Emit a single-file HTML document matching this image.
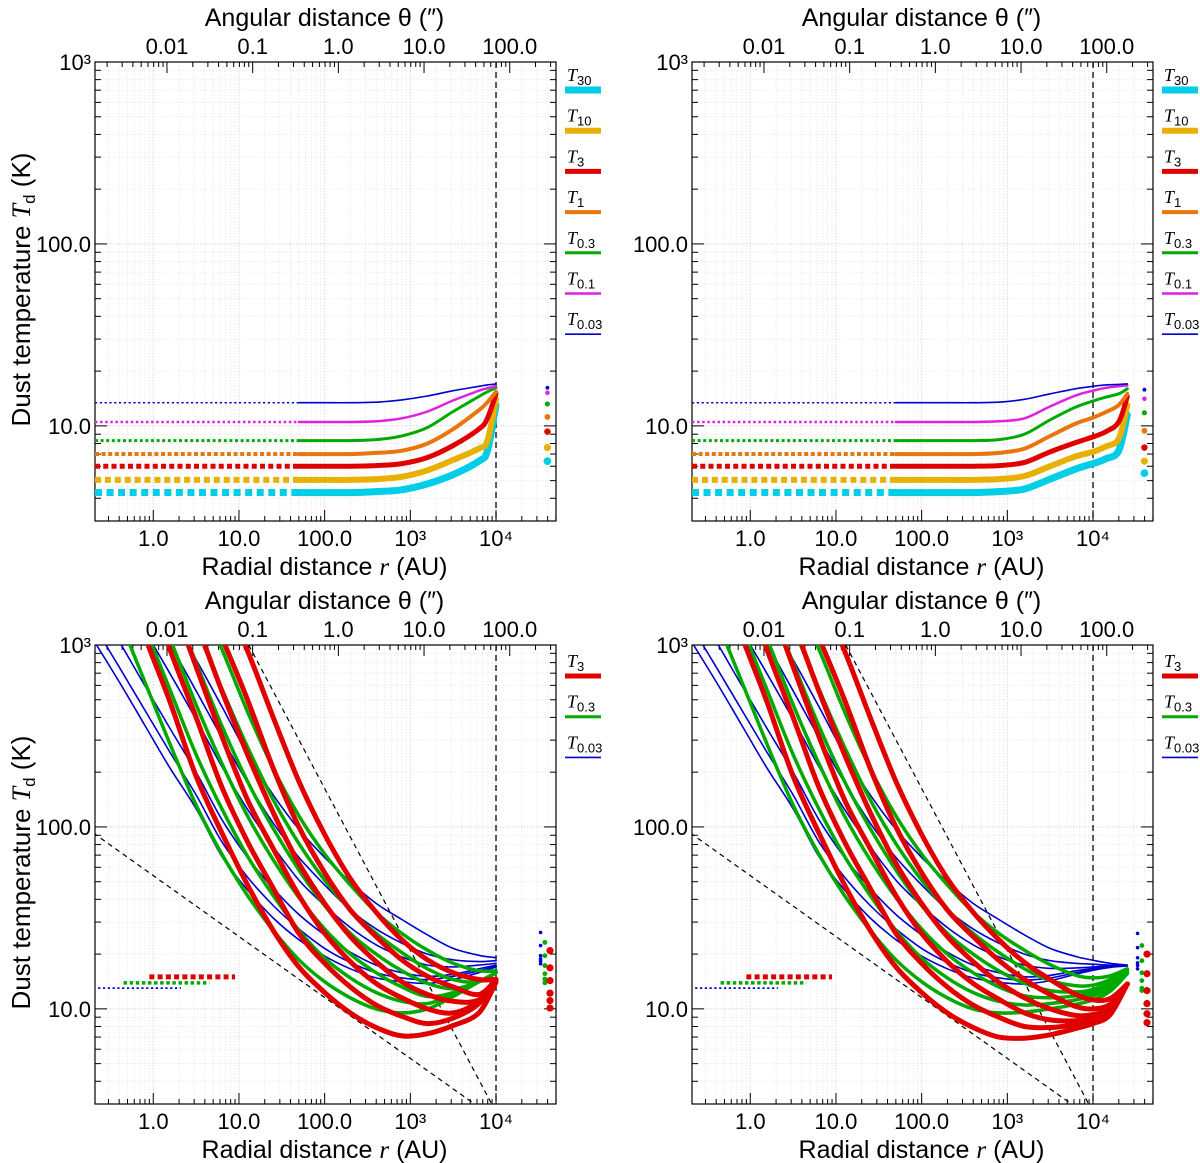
<!DOCTYPE html>
<html><head><meta charset="utf-8"><style>
html,body{margin:0;padding:0;background:#fff}
svg{display:block}
text{font-family:"Liberation Sans",Arial,sans-serif;fill:#000}
</style></head><body>
<svg id="fig" width="1200" height="1163" viewBox="0 0 1200 1163" xmlns="http://www.w3.org/2000/svg"></svg>
<script>
// ---------- data ----------
const bottomLogR = [-0.7,-0.4,-0.1,0.2,0.5,0.8,1.1,1.4,1.7,2.0,2.3,2.6,2.9,3.2,3.5,3.8,4.0];
const tailLogR = [2.9,3.2,3.5,3.8,4.0,4.2,4.4];
const redBL = [
 [6300,2800,1120,480,190,93,48,27,17,12.3,9.5,7.9,7.1,7.3,8.1,9.5,14],
 [12600,5200,2340,930,400,166,83,46,26,17.8,13.2,10.5,9.1,8.3,8.9,10.7,14.5],
 [20000,10000,4500,1860,760,316,141,76,42,26,18.2,13.8,11.5,10,9.5,11,14.5],
 [30000,16000,7500,3400,1350,560,250,120,63,38,25,18.2,14.1,12,11,11.2,14.5],
 [50000,25000,12000,5800,2400,1100,500,210,100,56,35,25,18.6,15.1,13.2,12,14.5],
 [80000,40000,20000,10000,5000,2000,930,400,178,91,52,34,24,18.6,15.8,14.5,14.5]];
const redBR = [
 [7.0,6.9,7.2,7.8,8.3,9.3,13.7],[9.0,8.0,7.9,8.2,8.6,9.6,13.7],[11.3,9.5,8.7,8.6,8.9,9.8,13.7],
 [14,11.5,10,9.2,9.3,10.1,13.7],[18.5,14.5,12,10.3,10.0,10.6,13.7],[24,18,14.5,12,11.2,11.4,13.7]];
const greenBL = [
 [3160,1410,630,282,132,71,42,27,18.6,14.1,11.5,10,9.5,10,11.7,14.1,15.8],
 [6300,2800,1260,560,250,126,69,42,27,19,14.8,12.3,11,10.7,12,14.1,15.8],
 [12000,5000,2300,1070,470,224,115,66,41,27.5,20,15.8,13.2,11.7,12.3,14.1,15.8],
 [20000,9000,4000,1800,800,360,178,98,58,37,26,20,16.2,13.8,12.9,14.1,15.8],
 [30000,14000,6300,2800,1260,575,275,141,81,51,35,26,20.4,16.6,14.5,14.1,15.8],
 [50000,22000,10000,4500,2000,950,430,210,115,71,48,34,26,21,17.8,16.2,16.2]];
const greenBR = [
 [9.5,9.6,10.0,10.6,11.2,12.5,15.6],[11.0,10.5,10.7,11.2,11.8,13,15.8],[13.2,11.8,11.5,11.8,12.3,13.5,16],
 [16.2,13.8,12.6,12.4,12.8,14,16.2],[20.4,16.6,14.3,13.4,13.5,14.5,16.4],[26,21,17.5,15.3,14.8,15.2,16.6]];
const blueBL = [
 [1070,630,363,209,126,69,45,31.6,24,19.5,16.6,14.8,14.1,13.8,14.5,15.8,17],
 [1300,760,440,255,150,83,53,37,27.5,21.5,18,15.8,14.8,14.5,15.1,16.2,17.2],
 [1800,1050,600,345,200,110,68,46,33,25.5,20.5,17.4,15.8,15.1,15.5,16.6,17.4],
 [3600,2000,1200,690,390,215,125,78,51,37,28,22.5,19.3,17.4,17.0,17.4,17.8],
 [5000,2900,1700,1000,560,310,175,105,68,48,35,27.5,23,20,18.6,18.2,18.4],
 [7000,4200,2500,1450,830,460,250,150,97,68,50,38,31,25.5,21.5,19.7,19.1]];
const blueBR = [
 [14.0,13.7,14.3,15.5,16.3,16.9,17.2],[14.8,14.4,14.8,15.8,16.5,17,17.3],[15.8,15.0,15.3,16.2,16.7,17.1,17.3],
 [19.3,17.4,16.7,16.8,17.0,17.2,17.3],[23,20,18.4,17.8,17.6,17.4,17.3],[31,25.5,21.5,19.4,18.5,17.8,17.4]];
const dotsBL_blue=[26.3,22.3,19.6,18.8,18.3,17.7], dotsBL_green=[23.2,19.6,17.3,15.6,14.6,13.9], dotsBL_red=[20.9,16.8,14.3,12.2,11.1,10.1];
const dotsBR_blue=[26,21.7,19.1,17.9,17.3,16.6], dotsBR_green=[22.3,18.4,15.8,14.3,13,12.6], dotsBR_red=[20,15.6,12.6,10.7,9.4,8.4];
const bottomLevels = [15, 13.9, 13];
const bottomLevelRange = [[0.9,9],[0.45,4.5],[0.2,2.1]];
const dashLow = [[0.2,92.6],[5600,3.0]];
const dashSteep = [[13,1000],[8900,3.0]];
const topNames = ['30','10','3','1','0.3','0.1','0.03'];
const topLevels = [4.3,5.05,6.0,7.0,8.3,10.5,13.4];
const tlLogR = [1.7,2.0,2.3,2.6,2.9,3.2,3.5,3.8,3.9,4.0];
const tlCurves = [
 [4.3,4.3,4.3,4.35,4.45,4.8,5.4,6.4,7.3,13],
 [5.05,5.05,5.05,5.1,5.25,5.7,6.5,7.5,8.3,14],
 [6.0,6.0,6.0,6.05,6.2,6.7,7.8,9.6,11,15],
 [7.0,7.0,7.0,7.1,7.3,8.0,9.6,12.2,13.5,15.4],
 [8.3,8.3,8.3,8.4,8.8,9.8,12.0,14.5,15.4,16.2],
 [10.5,10.5,10.5,10.6,11.0,12.0,13.8,15.6,16.1,16.6],
 [13.4,13.4,13.4,13.5,13.9,14.6,15.6,16.5,16.8,17.0]];
const trLogR = [1.7,2.0,2.3,2.6,2.9,3.2,3.5,3.8,4.0,4.15,4.3,4.4];
const trCurves = [
 [4.3,4.3,4.3,4.3,4.35,4.5,5.1,5.8,6.2,6.6,7.3,11.5],
 [5.05,5.05,5.05,5.05,5.1,5.3,6.0,6.8,7.2,7.7,8.5,13],
 [6.0,6.0,6.0,6.0,6.05,6.3,7.2,8.1,8.7,9.3,10.5,14.5],
 [7.0,7.0,7.0,7.0,7.1,7.5,8.8,10.3,11.1,11.9,13,15],
 [8.3,8.3,8.3,8.3,8.4,9.0,10.8,12.7,13.7,14.4,15.0,16.0],
 [10.5,10.5,10.5,10.5,10.6,11.0,12.8,14.7,15.6,16.2,16.5,16.7],
 [13.4,13.4,13.4,13.4,13.5,14.0,15.0,16.0,16.5,16.8,16.9,17.0]];
const tlDots = [6.4,7.6,9.3,11.2,13.2,15.2,16.2];
const trDots = [5.5,6.4,7.6,9.4,11.8,14.1,15.8];
const xTickLabels = ['1.0','10.0','100.0','10³','10⁴'];
const thetaLabels = ['0.01','0.1','1.0','10.0','100.0'];
const yTickLabels = ['10.0','100.0','10³'];

// ---------- styling ----------
const colors = ['#00cde6','#e8b000','#e00000','#e8760c','#00aa00','#e020e0','#0000cc'];
const widths = [7,6,5,4,3,2.5,1.6];
const famColor = {red:'#e00000',green:'#00aa00',blue:'#0000cc'};
const famWidth = {red:5,green:3.5,blue:1.6};
const XMIN=-0.68, XMAX=4.70, YMIN=Math.log10(3), YMAX=3, PW=461, PH=459, DIST=2.16;
const panels = [{id:'tl',ox:95,oy:62},{id:'tr',ox:692,oy:62},{id:'bl',ox:95,oy:645},{id:'br',ox:692,oy:645}];
const NS='http://www.w3.org/2000/svg';
const svg=document.getElementById('fig');
function mk(tag,attrs,parent){const e=document.createElementNS(NS,tag);for(const k in attrs)e.setAttribute(k,attrs[k]);(parent||svg).appendChild(e);return e;}
function sx(p,lr){return p.ox+(lr-XMIN)/(XMAX-XMIN)*PW;}
function sy(p,T){return p.oy+(YMAX-Math.log10(T))/(YMAX-YMIN)*PH;}
function smooth(pts){let d='M'+pts[0][0].toFixed(1)+','+pts[0][1].toFixed(1);
 for(let i=0;i<pts.length-1;i++){const p0=pts[Math.max(i-1,0)],p1=pts[i],p2=pts[i+1],p3=pts[Math.min(i+2,pts.length-1)];
  const c1=[p1[0]+(p2[0]-p0[0])/6,p1[1]+(p2[1]-p0[1])/6],c2=[p2[0]-(p3[0]-p1[0])/6,p2[1]-(p3[1]-p1[1])/6];
  d+=' C'+c1[0].toFixed(1)+','+c1[1].toFixed(1)+' '+c2[0].toFixed(1)+','+c2[1].toFixed(1)+' '+p2[0].toFixed(1)+','+p2[1].toFixed(1);}
 return d;}

const defs=mk('defs',{});
panels.forEach(p=>{const cp=mk('clipPath',{id:'clip-'+p.id},defs);mk('rect',{x:p.ox,y:p.oy,width:PW,height:PH},cp);});

function drawAxes(p,isLeft){
 const g=mk('g',{});
 
 
 for(let e=-1;e<=4;e++)for(let m=1;m<=9;m++){const lr=e+Math.log10(m);if(lr<XMIN||lr>XMAX)continue;const x=sx(p,lr);
  mk('line',{x1:x,y1:p.oy,x2:x,y2:p.oy+PH,stroke:m===1?'#d8d8d8':'#ececec','stroke-width':1,'stroke-dasharray':'1.5,1.5'},g);}
 for(let e=0;e<=2;e++)for(let m=1;m<=9;m++){const T=m*Math.pow(10,e);if(T<3||T>1000)continue;const y=sy(p,T);
  mk('line',{x1:p.ox,y1:y,x2:p.ox+PW,y2:y,stroke:m===1?'#d8d8d8':'#ececec','stroke-width':1,'stroke-dasharray':'1.5,1.5'},g);}
 for(let e=0;e<=2;e++)for(let m=1;m<=9;m++){const T=m*Math.pow(10,e);if(T<3||T>1000)continue;const y=sy(p,T);const L=m===1?12:6;
  mk('line',{x1:p.ox,y1:y,x2:p.ox+L,y2:y,stroke:'#000','stroke-width':1},g);
  mk('line',{x1:p.ox+PW,y1:y,x2:p.ox+PW-L,y2:y,stroke:'#000','stroke-width':1},g);}
 mk('line',{x1:p.ox,y1:p.oy,x2:p.ox+12,y2:p.oy,stroke:'#000'},g);
 for(let e=-1;e<=4;e++)for(let m=1;m<=9;m++){const lr=e+Math.log10(m);if(lr<XMIN||lr>XMAX)continue;const x=sx(p,lr);const L=m===1?11:5;
  mk('line',{x1:x,y1:p.oy+PH,x2:x,y2:p.oy+PH-L,stroke:'#000','stroke-width':1},g);}
 for(let e=-3;e<=2;e++)for(let m=1;m<=9;m++){const lr=e+Math.log10(m)+DIST;if(lr<XMIN||lr>XMAX)continue;const x=sx(p,lr);const L=m===1?11:5;
  mk('line',{x1:x,y1:p.oy,x2:x,y2:p.oy+L,stroke:'#000','stroke-width':1},g);}
 mk('rect',{x:p.ox,y:p.oy,width:PW,height:PH,fill:'none',stroke:'#000','stroke-width':1.2},g);
 xTickLabels.forEach((s,i)=>{const t=mk('text',{x:sx(p,i),y:p.oy+PH+25,'text-anchor':'middle','font-size':22},g);t.textContent=s;
  });
 thetaLabels.forEach((s,i)=>{const t=mk('text',{x:sx(p,i-2+DIST),y:p.oy-8,'text-anchor':'middle','font-size':22},g);t.textContent=s;
  });
 yTickLabels.forEach((s,i)=>{const T=Math.pow(10,i+1);const t=mk('text',{x:p.ox-4,y:sy(p,T)+8,'text-anchor':'end','font-size':22},g);t.textContent=s;
  });
 const xt=mk('text',{x:p.ox+PW/2-1,y:p.oy+PH+54,'text-anchor':'middle','font-size':25},g);
 xt.innerHTML='Radial distance <tspan font-family="Liberation Serif" font-style="italic">r</tspan> (AU)';
 
 const tt=mk('text',{x:p.ox+PW/2-1,y:p.oy-36,'text-anchor':'middle','font-size':25},g);
 tt.textContent='Angular distance θ (″)';
 
 if(isLeft){const yt=mk('text',{x:0,y:0,'text-anchor':'middle','font-size':26,transform:'translate(30,'+(p.oy+PH/2-2)+') rotate(-90)'},g);
  yt.innerHTML='Dust temperature <tspan font-family="Liberation Serif" font-style="italic">T</tspan><tspan font-size="17" dy="5">d</tspan><tspan dy="-5"> (K)</tspan>';
  }
 const vd=mk('line',{x1:sx(p,4),y1:p.oy,x2:sx(p,4),y2:p.oy+PH,stroke:'#333','stroke-width':1.6,'stroke-dasharray':'6,4'},g);
 
}

function curve(p,lrs,Ts,color,w,name){
 const pts=lrs.map((lr,i)=>[sx(p,lr),sy(p,Ts[i])]);
 const e=mk('path',{d:smooth(pts),fill:'none',stroke:color,'stroke-width':w,'stroke-linejoin':'round','stroke-linecap':'round','clip-path':'url(#clip-'+p.id+')'});
 
 
}
function dotted(p,lr1,lr2,T,color,w,name){
 const dash=Math.max(w,2.2),gap=Math.max(w*0.65,2.6);
 const e=mk('line',{x1:sx(p,lr1),y1:sy(p,T),x2:sx(p,lr2),y2:sy(p,T),stroke:color,'stroke-width':w,'stroke-dasharray':dash+','+gap,'clip-path':'url(#clip-'+p.id+')'});
 
 
}
function dot(p,lr,T,r,color,name){
 const c=mk('circle',{cx:sx(p,lr),cy:sy(p,T),r:r,fill:color});
 
 
}
function legend(x,y0,idxs,labels){
 idxs.forEach((ci,i)=>{const y=y0+i*40.7;
  const t=mk('text',{x:x+2,y:y-9,'font-size':18});
  t.innerHTML='<tspan font-family="Liberation Serif" font-style="italic">T</tspan><tspan font-size="13" dy="4">'+labels[i]+'</tspan>';
  
  
  const l=mk('line',{x1:x,y1:y,x2:x+36,y2:y,stroke:colors[ci],'stroke-width':Math.min(widths[ci],7)});
  
  });
}

panels.forEach((p,i)=>drawAxes(p,i%2===0));

[[panels[0],tlLogR,tlCurves,tlDots],[panels[1],trLogR,trCurves,trDots]].forEach(([p,lrs,cs,dots])=>{
 cs.forEach((Ts,i)=>{dotted(p,XMIN,1.7,topLevels[i],colors[i],widths[i],'dotted-level-T'+topNames[i]);
  curve(p,lrs,Ts,colors[i],widths[i],'curve-T'+topNames[i]);});
 dots.forEach((T,i)=>dot(p,4.6,T,3.9-i*0.33,colors[i],'edge-dot-T'+topNames[i]));
});
legend(565,90,[0,1,2,3,4,5,6],topNames);
legend(1162,90,[0,1,2,3,4,5,6],topNames);

function bottom(p,isRight){
 [dashLow,dashSteep].forEach((seg,k)=>{
  const e=mk('line',{x1:sx(p,Math.log10(seg[0][0])),y1:sy(p,seg[0][1]),x2:sx(p,Math.log10(seg[1][0])),y2:sy(p,seg[1][1]),stroke:'#000','stroke-width':1.2,'stroke-dasharray':'5,4','clip-path':'url(#clip-'+p.id+')'});
  
  });
 const fams=[['blue',blueBL,blueBR],['green',greenBL,greenBR],['red',redBL,redBR]];
 fams.forEach(([f,bl,br])=>{bl.forEach((Ts,i)=>{
  let lrs=bottomLogR.slice(),vals=Ts.slice();
  if(isRight){const cut=bottomLogR.indexOf(2.9);lrs=bottomLogR.slice(0,cut).concat(tailLogR);vals=Ts.slice(0,cut).concat(br[i]);}
  curve(p,lrs,vals,famColor[f],famWidth[f],f+'-curve-'+(i+1));});});
 ['red','green','blue'].forEach((f,i)=>dotted(p,Math.log10(bottomLevelRange[i][0]),Math.log10(bottomLevelRange[i][1]),bottomLevels[i],famColor[f],f==='red'?5:(f==='green'?3.5:1.8),f+'-inner-level'));
 const D=isRight?[dotsBR_blue,dotsBR_green,dotsBR_red]:[dotsBL_blue,dotsBL_green,dotsBL_red];
 D[0].forEach(T=>dot(p,4.52,T,1.8,famColor.blue,'blue-edge-dot'));
 D[1].forEach(T=>dot(p,4.57,T,2.4,famColor.green,'green-edge-dot'));
 D[2].forEach(T=>dot(p,4.63,T,3.6,famColor.red,'red-edge-dot'));
}
bottom(panels[2],false);bottom(panels[3],true);
legend(565,676,[2,4,6],['3','0.3','0.03']);
legend(1162,676,[2,4,6],['3','0.3','0.03']);
</script>
</body></html>
